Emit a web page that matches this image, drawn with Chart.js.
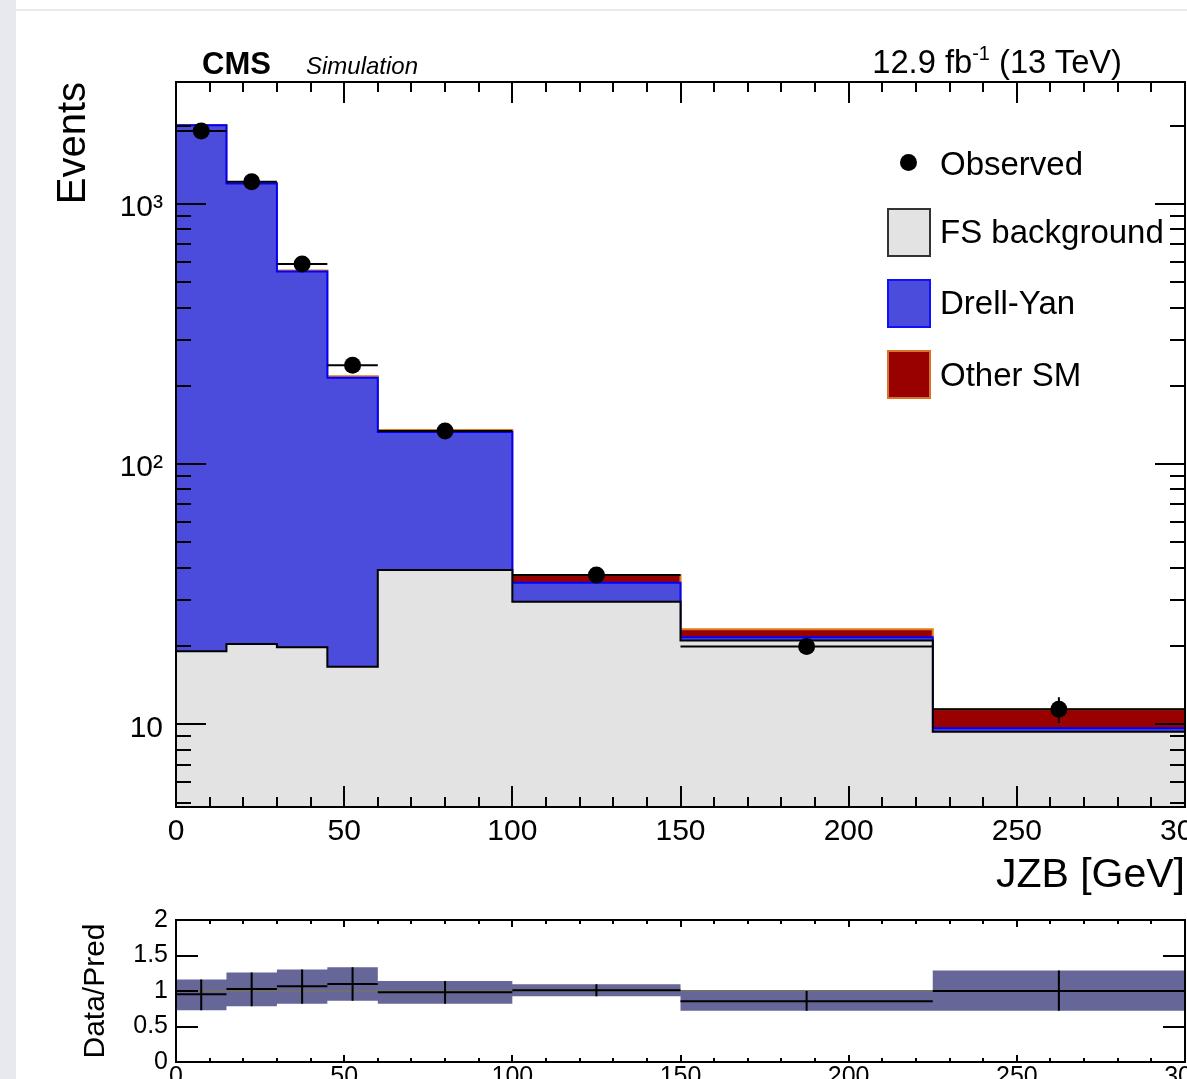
<!DOCTYPE html>
<html>
<head>
<meta charset="utf-8">
<script src="https://cdn.jsdelivr.net/npm/chart.js@4.4.1/dist/chart.umd.min.js"></script>
<style>
html,body{margin:0;padding:0;background:#fff;overflow:hidden;width:1187px;height:1079px;}
#wrap{position:relative;width:1187px;height:1079px;font-family:'Liberation Sans',Arial,Helvetica,sans-serif;color:#000;}
#strip{position:absolute;left:0;top:0;width:16px;height:1079px;background:#e8e9ee;}
#topline{position:absolute;left:16px;top:9px;width:1171px;height:2px;background:#e9e9ec;}
canvas{position:absolute;left:0;}
#main{top:0;}
#ratio{top:880px;}
.t{position:absolute;white-space:nowrap;line-height:1;}
.box{position:absolute;box-sizing:border-box;width:44px;height:49px;border:2px solid #333;}
</style>
</head>
<body>
<div id="wrap">
  <div id="strip"></div>
  <div id="topline"></div>
  <canvas id="main" width="1187" height="900"></canvas>
  <canvas id="ratio" width="1187" height="199"></canvas>

  <div class="t" style="left:202px;top:47.8px;font-size:31px;font-weight:bold;">CMS</div>
  <div class="t" style="left:306px;top:53.7px;font-size:24px;font-style:italic;">Simulation</div>
  <div class="t" style="left:0;width:1122px;text-align:right;top:46.3px;font-size:32.7px;">12.9 fb<span style="font-size:20px;position:relative;top:-13px;">-1</span> (13 TeV)</div>

  <div style="position:absolute;left:900.4px;top:153.8px;width:17px;height:17px;border-radius:50%;background:#000;"></div>
  <div class="t" style="left:940px;top:147.1px;font-size:33px;">Observed</div>
  <div class="box" style="left:886.7px;top:208.3px;background:#e3e3e3;border-color:#333;"></div>
  <div class="t" style="left:940px;top:215.4px;font-size:33px;">FS background</div>
  <div class="box" style="left:886.7px;top:279px;background:#4b4bdc;border-color:#1010ff;"></div>
  <div class="t" style="left:940px;top:286.1px;font-size:33px;">Drell-Yan</div>
  <div class="box" style="left:886.7px;top:350px;background:#990000;border-color:#d8742a;"></div>
  <div class="t" style="left:940px;top:358.1px;font-size:33px;">Other SM</div>
</div>
<script>
// ---- data ----
const binEdges = [0, 15, 30, 45, 60, 100, 150, 225, 300];
const fsBackground = [19.1, 20.35, 19.8, 16.65, 39.2, 29.6, 21.0, 9.37];
const drellYan = [1987, 1179, 531, 198, 93.6, 5.4, 0.6, 0.28];
const otherSM = [6, 5, 4, 3, 2.5, 2.5, 1.6, 1.77];
const observed = [1909, 1218, 588, 240, 134, 37.5, 19.9, 11.42];
const observedErr = [30, 22, 14, 7, 4, 1.5, 1.0, 1.3];
const ratio = [0.953, 1.028, 1.066, 1.099, 0.982, 1.01, 0.855, 1.0];
const ratioLow = [0.728, 0.784, 0.822, 0.864, 0.822, 0.925, 0.723, 0.723];
const ratioHigh = [1.161, 1.26, 1.302, 1.334, 1.141, 1.095, 1.0, 1.288];
const xTickValues = [0, 50, 100, 150, 200, 250, 300];
const xTickLabels = ['0', '50', '100', '150', '200', '250', '300'];
const yTickValues = [10, 100, 1000];
const yTickLabels = ['10', '10\u00B2', '10\u00B3'];
const ratioTickValues = [0, 0.5, 1, 1.5, 2];
const ratioTickLabels = ['0', '0.5', '1', '1.5', '2'];

const FONT = "'Liberation Sans', Arial, Helvetica, sans-serif";
Chart.defaults.font.family = FONT;

function steps(values) {
  const pts = [];
  values.forEach((v, i) => { pts.push({x: binEdges[i], y: v}); pts.push({x: binEdges[i + 1], y: v}); });
  return pts;
}
const stackDY = fsBackground.map((v, i) => v + drellYan[i]);
const stackAll = stackDY.map((v, i) => v + otherSM[i]);
const centers = binEdges.slice(0, -1).map((e, i) => (e + binEdges[i + 1]) / 2);

function frameTicks(chart, xMajorStep, xMinorStep, xMajorLen, xMinorLen, yTicks) {
  const {ctx, chartArea: a, scales: {x, y}} = chart;
  ctx.save();
  ctx.strokeStyle = '#000';
  ctx.lineWidth = 2;
  ctx.beginPath();
  for (let v = x.min; v <= x.max + 1e-9; v += xMinorStep) {
    const px = Math.round(x.getPixelForValue(v));
    const major = Math.abs(v / xMajorStep - Math.round(v / xMajorStep)) < 1e-6;
    const len = major ? xMajorLen : xMinorLen;
    ctx.moveTo(px, a.bottom); ctx.lineTo(px, a.bottom - len);
    ctx.moveTo(px, a.top); ctx.lineTo(px, a.top + len);
  }
  yTicks.forEach(t => {
    const py = Math.round(y.getPixelForValue(t.v));
    ctx.moveTo(a.left, py); ctx.lineTo(a.left + t.len, py);
    ctx.moveTo(a.right, py); ctx.lineTo(a.right - t.len, py);
  });
  ctx.stroke();
  ctx.strokeRect(a.left, a.top, a.right - a.left, a.bottom - a.top);
  ctx.restore();
}

const mainPlugin = {
  id: 'mainDecor',
  afterDatasetsDraw(chart) {
    const {ctx, chartArea: a, scales: {x, y}} = chart;
    ctx.save();
    ctx.beginPath(); ctx.rect(a.left, a.top, a.right - a.left, a.bottom - a.top); ctx.clip();
    ctx.strokeStyle = '#000'; ctx.lineWidth = 2;
    ctx.beginPath();
    observed.forEach((v, i) => {
      const py = y.getPixelForValue(v);
      ctx.moveTo(x.getPixelForValue(binEdges[i]), py);
      ctx.lineTo(x.getPixelForValue(binEdges[i + 1]), py);
      const cx = x.getPixelForValue(centers[i]);
      ctx.moveTo(cx, y.getPixelForValue(v + observedErr[i]));
      ctx.lineTo(cx, y.getPixelForValue(v - observedErr[i]));
    });
    ctx.stroke();
    ctx.restore();
  },
  afterDraw(chart) {
    const y = chart.scales.y;
    const ticks = [];
    for (let d = Math.floor(Math.log10(y.min)); d <= Math.ceil(Math.log10(y.max)); d++) {
      for (let m = 1; m <= 9; m++) {
        const v = m * Math.pow(10, d);
        if (v >= y.min && v <= y.max) ticks.push({v: v, len: m === 1 ? 30 : 15});
      }
    }
    frameTicks(chart, 50, 10, 21, 10, ticks);
  }
};

new Chart(document.getElementById('main'), {
  type: 'line',
  data: {
    datasets: [
      {label: 'FS background', data: steps(fsBackground), borderColor: '#000', borderWidth: 2,
       backgroundColor: '#e3e3e3', fill: 'start', pointRadius: 0, order: 1},
      {label: 'Drell-Yan', data: steps(stackDY), borderColor: '#0000ff', borderWidth: 2,
       backgroundColor: '#4b4bdc', fill: '-1', pointRadius: 0, order: 2},
      {label: 'Other SM', data: steps(stackAll), borderColor: '#e07b20', borderWidth: 2,
       backgroundColor: '#990000', fill: '-1', pointRadius: 0, order: 3},
      {label: 'Observed', data: observed.map((v, i) => ({x: centers[i], y: v})), showLine: false,
       pointRadius: 8.5, pointHoverRadius: 8.5, pointBackgroundColor: '#000', pointBorderColor: '#000',
       pointBorderWidth: 0, order: 0}
    ]
  },
  options: {
    responsive: false, animation: false, devicePixelRatio: 1,
    layout: {autoPadding: false, padding: {left: 40, top: 82, right: 2, bottom: 0}},
    plugins: {legend: {display: false}, tooltip: {enabled: false}},
    elements: {line: {tension: 0}},
    scales: {
      x: {
        type: 'linear', min: 0, max: 300,
        grid: {display: false, drawTicks: false}, border: {display: false},
        afterBuildTicks: s => { s.ticks = xTickValues.map(v => ({value: v})); },
        afterFit: s => { s.height = 93; s.paddingLeft = 0; s.paddingRight = 0; },
        ticks: {autoSkip: false, maxRotation: 0, minRotation: 0, padding: 7, color: '#000',
                font: {family: FONT, size: 30}, callback: v => xTickLabels[xTickValues.indexOf(v)]},
        title: {display: true, text: 'JZB [GeV]', align: 'end', color: '#000',
                font: {family: FONT, size: 41}, padding: {top: 0, bottom: 0}}
      },
      y: {
        type: 'logarithmic', min: 4.81, max: 2944,
        grid: {display: false, drawTicks: false}, border: {display: false},
        afterBuildTicks: s => { s.ticks = yTickValues.map(v => ({value: v})); },
        afterFit: s => { s.width = 136; s.paddingTop = 0; s.paddingBottom = 0; },
        ticks: {autoSkip: false, padding: 13, color: '#000', labelOffset: 4,
                font: {family: FONT, size: 30}, callback: v => yTickLabels[yTickValues.indexOf(v)]},
        title: {display: true, text: 'Events', align: 'end', color: '#000',
                font: {family: FONT, size: 40}, padding: {top: 9.5, bottom: 0}}
      }
    }
  },
  plugins: [mainPlugin]
});

const ratioPlugin = {
  id: 'ratioDecor',
  afterDatasetsDraw(chart) {
    const {ctx, chartArea: a, scales: {x, y}} = chart;
    ctx.save();
    ctx.beginPath(); ctx.rect(a.left, a.top, a.right - a.left, a.bottom - a.top); ctx.clip();
    ctx.strokeStyle = '#000'; ctx.lineWidth = 2;
    ctx.beginPath();
    ratio.forEach((r, i) => {
      const py = y.getPixelForValue(r);
      ctx.moveTo(x.getPixelForValue(binEdges[i]), py);
      ctx.lineTo(x.getPixelForValue(binEdges[i + 1]), py);
      const cx = x.getPixelForValue(centers[i]);
      ctx.moveTo(cx, y.getPixelForValue(ratioHigh[i]));
      ctx.lineTo(cx, y.getPixelForValue(ratioLow[i]));
    });
    ctx.stroke();
    ctx.restore();
  },
  afterDraw(chart) {
    frameTicks(chart, 50, 10, 7, 4, ratioTickValues.map(v => ({v: v, len: 22})));
  }
};

new Chart(document.getElementById('ratio'), {
  type: 'line',
  data: {
    datasets: [
      {label: 'band low', data: steps(ratioLow), borderWidth: 0, pointRadius: 0, fill: false, order: 3},
      {label: 'band high', data: steps(ratioHigh), borderWidth: 0, pointRadius: 0, fill: '-1',
       backgroundColor: '#666699', order: 2},
      {label: 'unity', data: [{x: 0, y: 1}, {x: 300, y: 1}], borderColor: '#707070', borderWidth: 2,
       pointRadius: 0, fill: false, order: 1}
    ]
  },
  options: {
    responsive: false, animation: false, devicePixelRatio: 1,
    layout: {autoPadding: false, padding: {left: 40, top: 40, right: 2, bottom: 0}},
    plugins: {legend: {display: false}, tooltip: {enabled: false}},
    scales: {
      x: {
        type: 'linear', min: 0, max: 300,
        grid: {display: false, drawTicks: false}, border: {display: false},
        afterBuildTicks: s => { s.ticks = xTickValues.map(v => ({value: v})); },
        afterFit: s => { s.height = 17; s.paddingLeft = 0; s.paddingRight = 0; },
        ticks: {autoSkip: false, maxRotation: 0, minRotation: 0, padding: 0, color: '#000',
                font: {family: FONT, size: 25}, callback: v => xTickLabels[xTickValues.indexOf(v)]}
      },
      y: {
        type: 'linear', min: 0, max: 2,
        grid: {display: false, drawTicks: false}, border: {display: false},
        afterBuildTicks: s => { s.ticks = ratioTickValues.map(v => ({value: v})); },
        afterFit: s => { s.width = 136; s.paddingTop = 0; s.paddingBottom = 0; },
        ticks: {autoSkip: false, padding: 8, color: '#000',
                font: {family: FONT, size: 25}, callback: v => ratioTickLabels[ratioTickValues.indexOf(v)]},
        title: {display: true, text: 'Data/Pred', align: 'center', color: '#000',
                font: {family: FONT, size: 30}, padding: {top: 37.6, bottom: 0}}
      }
    }
  },
  plugins: [ratioPlugin]
});
</script>
</body>
</html>
